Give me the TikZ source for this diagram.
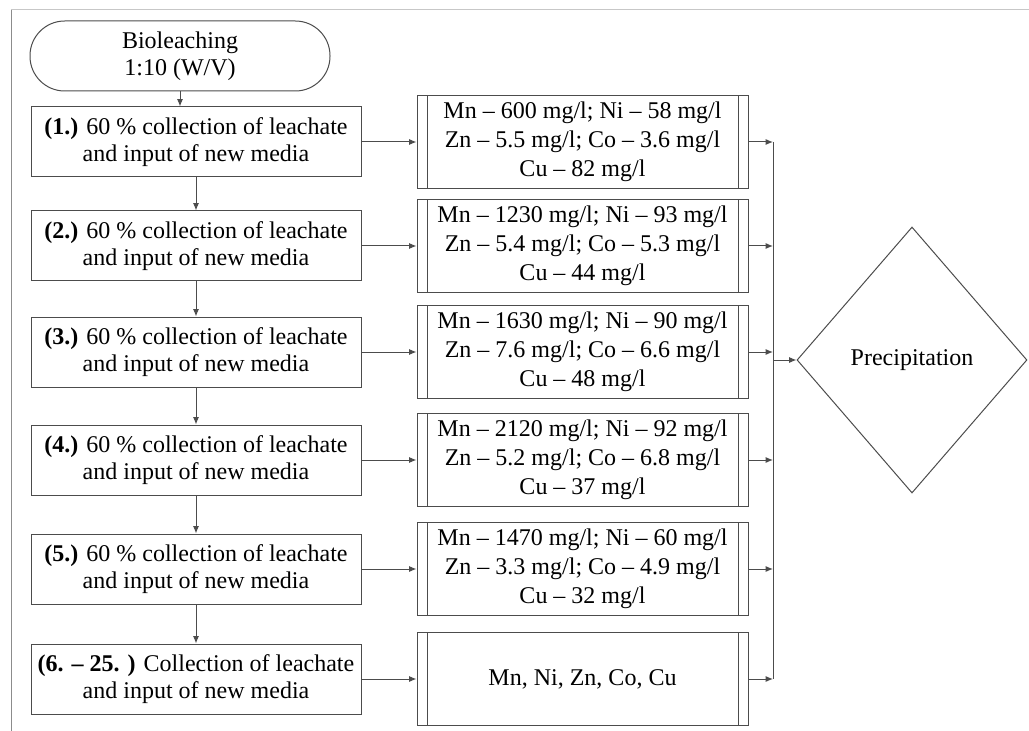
\documentclass[tikz,border=0pt]{standalone}
\usepackage{fontspec}
\setmainfont{Liberation Serif}
\usepackage{tikz}
\usetikzlibrary{arrows.meta,shapes.geometric}

\tikzset{
  flowline/.style={line width=0.75pt, draw=black!70, -{Latex[length=5.5pt,width=4.5pt]}},
  startbox/.style={draw=black!70, line width=0.75pt, rounded corners=26pt, minimum width=225pt, minimum height=52.5pt, inner sep=0pt, align=center, font=\fontsize{18}{20.5}\selectfont},
  stepbox/.style={draw=black!70, line width=0.75pt, minimum width=247.5pt, minimum height=52.5pt, inner sep=0pt, align=center, font=\fontsize{18}{20.5}\selectfont},
  resbox/.style={draw=black!70, line width=0.75pt, minimum width=248.25pt, minimum height=69.75pt, inner sep=0pt, align=center, font=\fontsize{18}{21.75}\selectfont,
    path picture={
      \draw[black!70, line width=0.75pt] ([xshift=7.5pt]path picture bounding box.north west) -- ([xshift=7.5pt]path picture bounding box.south west);
      \draw[black!70, line width=0.75pt] ([xshift=-7.5pt]path picture bounding box.north east) -- ([xshift=-7.5pt]path picture bounding box.south east);
    }},
  precbox/.style={diamond, draw=black!70, line width=0.75pt, minimum width=172.5pt, minimum height=199.5pt, inner sep=0pt, font=\fontsize{18}{20.5}\selectfont}
}

\begin{document}
\begin{tikzpicture}[x=0.75pt,y=-0.75pt]
    \useasboundingbox (0,0) rectangle (1029,731);
    % page frame
    \draw [black!22, line width=0.75pt] (11,10) -- (1029,10);
    \draw [black!45, line width=0.75pt] (11,10) -- (11,731);

    % left column
    \node [startbox] (start) at (180,56) {Bioleaching\\1:10 (W/V)};
    \node [stepbox] (s1) at (196,142) {\textbf{(1.)} 60 \% collection of leachate\\and input of new media};
    \node [stepbox] (s2) at (196,246) {\textbf{(2.)} 60 \% collection of leachate\\and input of new media};
    \node [stepbox] (s3) at (196,352) {\textbf{(3.)} 60 \% collection of leachate\\and input of new media};
    \node [stepbox] (s4) at (196,460) {\textbf{(4.)} 60 \% collection of leachate\\and input of new media};
    \node [stepbox] (s5) at (196,569) {\textbf{(5.)} 60 \% collection of leachate\\and input of new media};
    \node [stepbox] (s6) at (196,679) {\textbf{(6. -- 25. )} Collection of leachate\\and input of new media};

    % concentrations
    \node [resbox] (r1) at (582.5,142) {Mn -- 600 mg/l; Ni -- 58 mg/l\\Zn -- 5.5 mg/l; Co -- 3.6 mg/l\\Cu -- 82 mg/l};
    \node [resbox] (r2) at (582.5,246) {Mn -- 1230 mg/l; Ni -- 93 mg/l\\Zn -- 5.4 mg/l; Co -- 5.3 mg/l\\Cu -- 44 mg/l};
    \node [resbox] (r3) at (582.5,352) {Mn -- 1630 mg/l; Ni -- 90 mg/l\\Zn -- 7.6 mg/l; Co -- 6.6 mg/l\\Cu -- 48 mg/l};
    \node [resbox] (r4) at (582.5,460) {Mn -- 2120 mg/l; Ni -- 92 mg/l\\Zn -- 5.2 mg/l; Co -- 6.8 mg/l\\Cu -- 37 mg/l};
    \node [resbox] (r5) at (582.5,569) {Mn -- 1470 mg/l; Ni -- 60 mg/l\\Zn -- 3.3 mg/l; Co -- 4.9 mg/l\\Cu -- 32 mg/l};
    \node [resbox] (r6) at (582.5,679) {Mn, Ni, Zn, Co, Cu};

    \node [precbox] (prec) at (912,360) {Precipitation};

    % collector line
    \coordinate (busTop) at (773,142);
    \coordinate (busBot) at (773,679);
    \coordinate (busMid) at (773,360);

    % arrows
    \draw [flowline] (start.south) -- (start.south |- s1.north);
    \draw [flowline] (s1) -- (s2);
    \draw [flowline] (s2) -- (s3);
    \draw [flowline] (s3) -- (s4);
    \draw [flowline] (s4) -- (s5);
    \draw [flowline] (s5) -- (s6);
    \draw [flowline] (s1) -- (r1);
    \draw [flowline] (s2) -- (r2);
    \draw [flowline] (s3) -- (r3);
    \draw [flowline] (s4) -- (r4);
    \draw [flowline] (s5) -- (r5);
    \draw [flowline] (s6) -- (r6);
    \draw [flowline] (r1.east) -- (r1.east -| busTop);
    \draw [flowline] (r2.east) -- (r2.east -| busTop);
    \draw [flowline] (r3.east) -- (r3.east -| busTop);
    \draw [flowline] (r4.east) -- (r4.east -| busTop);
    \draw [flowline] (r5.east) -- (r5.east -| busTop);
    \draw [flowline] (r6.east) -- (r6.east -| busTop);
    \draw [line width=0.75pt, draw=black!70] (busTop) -- (busBot);
    \draw [flowline] (busMid) -- (prec.west);
\end{tikzpicture}
\end{document}
